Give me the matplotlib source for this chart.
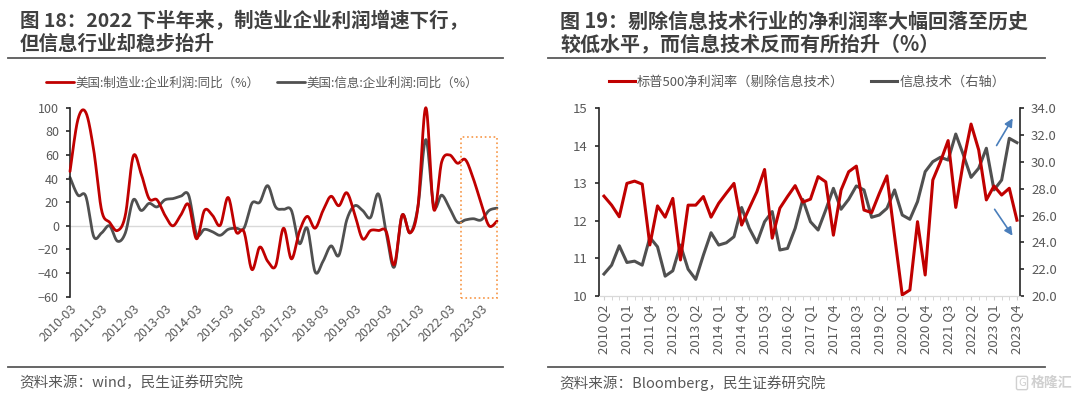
import numpy as np
import matplotlib
matplotlib.use("Agg")
import matplotlib.pyplot as plt
from matplotlib.lines import Line2D
from matplotlib.patches import Rectangle

plt.rcParams['font.family'] = ['Noto Sans CJK SC', 'DejaVu Sans']

# %% Data - left chart (quarterly, 2010-03 .. 2023-09, YoY %)
manu_profit_yoy = [46, 90, 96, 64, 13, 3, -4, 9, 59, 44,
                   23, 22, 9, 0, 9, 18, -11, 13, 9, 0.5,
                   24, -5, -5, -37, -18, -30, -34, -2, -28, -5,
                   8, -2, 13, 25, 17, 28, 10, -11, -4, -4,
                   -5, -33, 9, -6, 16, 100, 14, 54, 60, 53,
                   56, 40, 19, 0, 4]
info_profit_yoy = [41, 26, 25, -9, -6, 0, -13, -6, 22, 13,
                   19, 16, 22, 23, 25, 26, -7, -3, -5, -8,
                   -3, -2, -2, 19, 20, 34, 16, 14, 13, -15,
                   -2, -39, -30, -17, -25, 5, 17, 13, 7, 27,
                   -6, -35, 9, -6, 16, 73, 17, 26, 15, 3,
                   5, 6, 5, 13, 15]
left_years = list(range(2010, 2024))
left_labels = [f"{y}-03" for y in left_years]

# %% Data - right chart (quarterly, 2010 Q2 .. 2023 Q4)
sp500_margin_ex_it = [12.66, 12.42, 12.11, 13.0, 13.06, 12.98, 11.36, 12.4, 12.1, 12.6,
                      10.96, 12.42, 12.42, 12.65, 12.1, 12.47, 12.74, 13.0, 11.89, 12.34,
                      12.78, 13.37, 11.54, 12.34, 12.65, 12.94, 12.5, 12.58, 13.18, 13.04,
                      11.62, 12.82, 13.31, 13.46, 12.29, 12.22, 12.73, 13.2, 11.6, 10.03,
                      10.16, 11.98, 10.56, 13.09, 13.58, 14.14, 12.36, 13.58, 14.58, 13.89,
                      12.56, 12.93, 12.69, 12.87, 12.02]
it_margin = [21.64, 22.3, 23.75, 22.5, 22.6, 22.3, 24.37, 23.67, 21.48, 21.88,
             23.8, 22.0, 21.24, 23.05, 24.72, 23.8, 23.97, 24.42, 26.6, 25.05,
             23.97, 25.54, 26.3, 23.43, 23.55, 25.05, 27.2, 25.54, 24.92, 26.42,
             28.03, 26.47, 27.21, 28.21, 27.91, 25.87, 26.04, 26.54, 27.91, 26.04,
             25.72, 27.04, 29.27, 30.02, 30.35, 30.14, 32.08, 30.52, 28.85, 29.53,
             31.02, 27.91, 28.65, 31.76, 31.44]
right_quarters = [f"{y} Q{q}" for y in range(2010, 2024) for q in range(1, 5)][1:]

RED = '#C00000'
GRAY = '#505050'
TXT = '#595959'
W, H = 1080, 396


def smooth(x, y, n=16):
    # Catmull-Rom spline, looks like the Excel "smoothed line"
    x = np.asarray(x, float)
    y = np.asarray(y, float)
    px = np.concatenate(([x[0]], x, [x[-1]]))
    py = np.concatenate(([y[0]], y, [y[-1]]))
    t = np.linspace(0, 1, n, endpoint=False)
    xs, ys = [], []
    for i in range(1, len(px) - 2):
        for p, out in ((px, xs), (py, ys)):
            p0, p1, p2, p3 = p[i - 1], p[i], p[i + 1], p[i + 2]
            out.extend(0.5 * (2 * p1 + (-p0 + p2) * t +
                              (2 * p0 - 5 * p1 + 4 * p2 - p3) * t ** 2 +
                              (-p0 + 3 * p1 - 3 * p2 + p3) * t ** 3))
    xs.append(x[-1])
    ys.append(y[-1])
    return np.array(xs), np.array(ys)


def box(x0, y0, x1, y1):
    # pixel box (top-left origin) -> figure fraction rect
    return [x0 / W, 1 - y1 / H, (x1 - x0) / W, (y1 - y0) / H]


fig = plt.figure(figsize=(W / 100, H / 100), dpi=100)

# %% Titles, rules, sources
title_kw = dict(fontsize=14, fontweight='bold', color='#404040', va='center')
fig.text(20 / W, 1 - 21 / H, '图 18：2022 下半年来，制造业企业利润增速下行，', **title_kw)
fig.text(20 / W, 1 - 44 / H, '但信息行业却稳步抬升', **title_kw)
title_kw['fontsize'] = 14.4
fig.text(560 / W, 1 - 21 / H, '图 19：剔除信息技术行业的净利润率大幅回落至历史', **title_kw)
fig.text(560 / W, 1 - 44 / H, '较低水平，而信息技术反而有所抬升（%）', **title_kw)

for xa, xb in ((8, 503), (548, 1045)):
    for yy in (58, 367):
        fig.add_artist(Line2D([xa / W, xb / W], [1 - yy / H, 1 - yy / H],
                              color='#595959', lw=1.3))

src_kw = dict(fontsize=10.5, color=TXT, va='center')
fig.text(19 / W, 1 - 383 / H, '资料来源：wind，民生证券研究院', **src_kw)
fig.text(559 / W, 1 - 383 / H, '资料来源：Bloomberg，民生证券研究院', **src_kw)
fig.text(1072 / W, 1 - 383 / H, '格隆汇', fontsize=10, color='#d0d0d0',
         ha='right', va='center', fontweight='bold')
fig.text(1022 / W, 1 - 383 / H, 'G', fontsize=8, color='#d0d0d0', ha='center', va='center',
         bbox=dict(boxstyle='round,pad=0.15', fc='none', ec='#d0d0d0', lw=1))

# %% Left chart
ax1 = fig.add_axes(box(70, 107.7, 497, 296.7))
xq = np.arange(len(manu_profit_yoy))
ax1.axhline(0, color='#d9d9d9', lw=1, zorder=1)
sx, sy = smooth(xq, manu_profit_yoy)
l1, = ax1.plot(sx, sy, color=RED, lw=2, zorder=3, clip_on=False, solid_capstyle='round')
sx, sy = smooth(xq, info_profit_yoy)
l2, = ax1.plot(sx, sy, color=GRAY, lw=2, zorder=2, clip_on=False, solid_capstyle='round')
ax1.set_xlim(0, len(xq) - 1)
ax1.set_ylim(-60, 100)
ax1.set_yticks(range(-60, 101, 20))
ax1.set_xticks(range(0, len(xq), 4))
ax1.set_xticklabels(left_labels, rotation=45, ha='right', rotation_mode='anchor')
for s in ('top', 'right', 'bottom'):
    ax1.spines[s].set_visible(False)
ax1.spines['left'].set_color('#262626')
ax1.spines['left'].set_linewidth(1.2)
ax1.tick_params(axis='y', direction='out', length=3, width=1.2, color='#262626',
                labelsize=9, labelcolor=TXT, pad=5)
ax1.tick_params(axis='x', length=0, labelsize=9, labelcolor=TXT, pad=4)
ax1.add_patch(Rectangle((49.4, -61), 54 - 49.4, 75 + 61, fill=False,
                        ec='#F79646', ls=':', lw=1.2, clip_on=False, zorder=4))
fig.legend([l1, l2], ['美国:制造业:企业利润:同比（%）', '美国:信息:企业利润:同比（%）'],
           loc='center', bbox_to_anchor=(262 / W, 1 - 83 / H), ncol=2, frameon=False,
           fontsize=9, labelcolor=TXT, handlelength=2.2, handletextpad=0.15,
           columnspacing=1.4)

# %% Right chart
ax2 = fig.add_axes(box(599, 108.3, 1020, 296))
ax3 = ax2.twinx()
xr = np.arange(len(sp500_margin_ex_it))
r1, = ax2.plot(xr, sp500_margin_ex_it, color=RED, lw=2.2, zorder=3)
r2, = ax3.plot(xr, it_margin, color=GRAY, lw=2.2, zorder=3)
ax2.set_zorder(ax3.get_zorder() + 1)
ax2.patch.set_visible(False)
ax2.set_xlim(-0.65, len(xr) - 0.6)
ax2.set_ylim(10, 15)
ax3.set_ylim(20, 34)
ax2.set_yticks(range(10, 16))
ax3.set_yticks(range(20, 35, 2))
ax3.set_yticklabels([f"{v:.1f}" for v in range(20, 35, 2)])
ax2.set_xticks(range(0, len(xr), 3))
ax2.set_xticklabels(right_quarters[::3], rotation=90, va='top', ha='center')
ax2.set_xticks(xr, minor=True)
for a in (ax2, ax3):
    a.spines['top'].set_visible(False)
    a.spines['bottom'].set_color('#d9d9d9')
ax2.spines['right'].set_visible(False)
ax3.spines['left'].set_visible(False)
ax2.spines['left'].set_color('#262626')
ax3.spines['right'].set_color('#262626')
ax2.spines['left'].set_linewidth(1.2)
ax3.spines['right'].set_linewidth(1.2)
ax2.tick_params(axis='y', direction='out', length=3, width=1.2, color='#262626',
                labelsize=9.5, labelcolor=TXT, pad=5)
ax3.tick_params(axis='y', direction='out', length=3, width=1.2, color='#262626',
                labelsize=9.5, labelcolor=TXT, pad=5)
ax2.tick_params(axis='x', which='both', direction='out', length=3, color='#d0d0d0',
                labelsize=9.5, labelcolor=TXT, pad=3)
arrow = dict(arrowstyle='-|>', color='#4A7EBB', lw=1.2, mutation_scale=12)
ax2.annotate('', xy=(0.986, 0.959), xytext=(0.941, 0.789), xycoords='axes fraction',
             textcoords='axes fraction', arrowprops=arrow)
ax2.annotate('', xy=(0.986, 0.309), xytext=(0.936, 0.474), xycoords='axes fraction',
             textcoords='axes fraction', arrowprops=arrow)
fig.legend([r1, r2], ['标普500净利润率（剔除信息技术）', '信息技术（右轴）'],
           loc='center', bbox_to_anchor=(807 / W, 1 - 82 / H), ncol=2, frameon=False,
           fontsize=9.5, labelcolor=TXT, handlelength=2.0, handletextpad=0.15,
           columnspacing=2.0)

fig.savefig('out.png', dpi=100)
